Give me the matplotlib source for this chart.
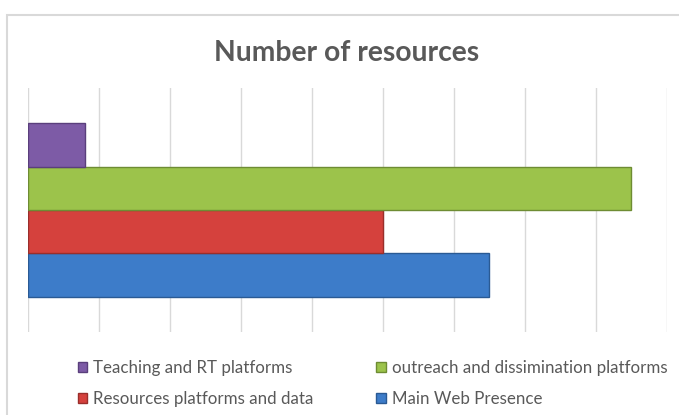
import matplotlib.pyplot as plt
from matplotlib.patches import Rectangle

# one category, four series (drawn bottom to top)
series = ['Main Web Presence', 'Resources platforms and data',
          'outreach and dissimination platforms', 'Teaching and RT platforms']
values = [6.5, 5.0, 8.5, 0.8]
colors = ['#3d7cc9', '#d5413d', '#9cc34b', '#7d5ba6']
edges = ['#2a5a94', '#9a2e2b', '#6e8c33', '#5a3f7c']

plt.rcParams['font.family'] = ['Lato', 'DejaVu Sans']

fig = plt.figure(figsize=(6.79, 4.15), dpi=100)
ax = fig.add_axes([0.0417, 0.2, 0.9402, 0.588])

h = 0.178
handles = {}
for i, (name, v, c, e) in enumerate(zip(series, values, colors, edges)):
    y = (i - 1.5) * h
    b = ax.barh(y, v, height=h, color=c, edgecolor=e, linewidth=1.0, label=name, zorder=3)
    handles[name] = b

ax.set_xlim(0, 9)
ax.set_ylim(-0.5, 0.5)
ax.set_xticks(range(0, 10))
ax.set_yticks([])
ax.tick_params(axis='x', length=0, labelbottom=False)
ax.grid(axis='x', color='#d9d9d9', linewidth=1.0, zorder=0)
for s in ax.spines.values():
    s.set_visible(False)

fig.text(0.51, 0.872, 'Number of resources', ha='center', va='center',
         fontsize=20.3, fontweight='bold', color='#595959')

order = ['Teaching and RT platforms', 'Resources platforms and data',
         'outreach and dissimination platforms', 'Main Web Presence']
leg = fig.legend([handles[n] for n in order], order, ncol=2,
                 loc='upper left', bbox_to_anchor=(0.105, 0.148),
                 frameon=False, fontsize=12.2, labelcolor='#595959',
                 handlelength=0.55, handleheight=0.55, handletextpad=0.35,
                 columnspacing=3.7, labelspacing=0.85, borderaxespad=0)

# chart area border
fig.patches.append(Rectangle((7 / 679, -0.1), 1.1, 1.1 - 15 / 415,
                             transform=fig.transFigure, fill=False,
                             edgecolor='#d9d9d9', linewidth=1.5))

fig.savefig('out.png', dpi=100)
